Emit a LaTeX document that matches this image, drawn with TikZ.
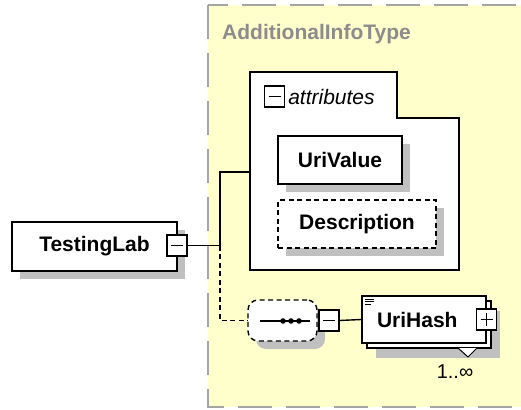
\documentclass[tikz,border=0pt]{standalone}
\usepackage{fontspec}
\setmainfont{Liberation Sans}
\usepackage{tikz}
\usetikzlibrary{positioning}
\usetikzlibrary{shadows}
\definecolor{typeyellow}{RGB}{255,255,204}
\definecolor{shadowgray}{RGB}{192,192,192}
\definecolor{bordergray}{RGB}{165,165,165}
\definecolor{titlegray}{RGB}{140,140,140}
\tikzset{elem/.style={draw,line width=1.4pt,fill=white,inner sep=0pt,font=\fontsize{21}{21}\selectfont\bfseries}}
\tikzset{shadowed/.style={drop shadow={shadow xshift=8pt,shadow yshift=-8pt,opacity=1,fill=shadowgray,draw=none}}}
\tikzset{dashbox/.style={dash pattern=on 5pt off 3.5pt}}
\tikzset{pmbox/.style={draw,line width=1.1pt,fill=white,inner sep=0pt,minimum width=20pt,minimum height=21pt}}
\tikzset{minus/.style={pmbox,path picture={\draw[line width=1.1pt] ([xshift=4pt]path picture bounding box.west) -- ([xshift=-4pt]path picture bounding box.east);}}}
\tikzset{plus/.style={pmbox,path picture={
  \draw[line width=1.1pt] ([xshift=4pt]path picture bounding box.west) -- ([xshift=-4pt]path picture bounding box.east);
  \draw[line width=1.1pt] ([yshift=-4pt]path picture bounding box.north) -- ([yshift=4pt]path picture bounding box.south);}}}
\tikzset{conn/.style={line width=1.4pt}}

\begin{document}
\begin{tikzpicture}[x=1pt,y=-1pt]
\useasboundingbox (0,0) rectangle (521,409);
\clip (0,0) rectangle (521,409);
% complex type
\draw[fill=typeyellow,draw=bordergray,line width=2pt,dash pattern=on 34pt off 14pt] (208,5) rectangle (560,407);
\node[anchor=base west,inner sep=0pt,text=titlegray,font=\fontsize{21}{21}\selectfont\bfseries] (title) at (222,40) {AdditionalInfoType};
% attributes
\draw[line width=1.4pt,fill=white] (250,72) -- (397,72) -- (397,118) -- (459,118) -- (459,270) -- (250,270) -- cycle;
\coordinate (attr) at (250,172);
\node[minus] (attrpm) at (274.5,96.5) {};
\node[right=3pt of attrpm,inner sep=0pt,font=\fontsize{21}{21}\selectfont\itshape] (attrlbl) {attributes};
\node[elem,shadowed,minimum width=124pt,minimum height=48pt] (urivalue) at (340,160) {UriValue};
\node[elem,dashbox,shadowed,minimum width=158pt,minimum height=48pt] (description) at (357,224) {Description};
% root element
\node[elem,shadowed,minimum width=165pt,minimum height=49pt] (testinglab) at (94.5,246.5) {TestingLab};
\node[minus] (labpm) at (177,245.5) {};
\coordinate (fork) at (220,245.5);
\draw[conn] (labpm.east) -- (fork) |- (attr);
% sequence
\node[draw,fill=white,line width=1.4pt,dashbox,rounded corners=10pt,
  minimum width=69pt,minimum height=41pt,inner sep=0pt,shadowed] (seq) at (282.5,320.5) {};
\draw[conn,dashbox] (fork) |- (seq.west);
\draw[line width=1.4pt] (260,321) -- (310,321);
\foreach \x in {283,291,299} {
\fill (\x,321) circle (2.8pt);
}
\node[minus] (seqpm) at (329,320.5) {};
% repeated element
\node[elem,minimum width=124pt,minimum height=47pt,text width=94pt,align=left,
  drop shadow={shadow xshift=14pt,shadow yshift=-15pt,opacity=1,fill=shadowgray,draw=none},
  copy shadow={shadow xshift=5pt,shadow yshift=-5pt,draw=black,fill=white,line width=1.4pt}] (urihash) at (424,319.5) {UriHash};
\draw[conn] (seqpm.east) -- (urihash.west);
\node[plus] (hashpm) at (urihash.east) {};
\foreach \y/\l in {299/9,301.7/9,304.3/6} {
\draw[line width=0.9pt] (365,\y) -- ++(\l,0);
}
\draw[line width=1pt,fill=white] (458,348) -- (468,357) -- (477,348);
\node[inner sep=0pt,font=\fontsize{20}{20}\selectfont] (occurs) at (455,371.5) {1..∞};
\end{tikzpicture}
\end{document}
